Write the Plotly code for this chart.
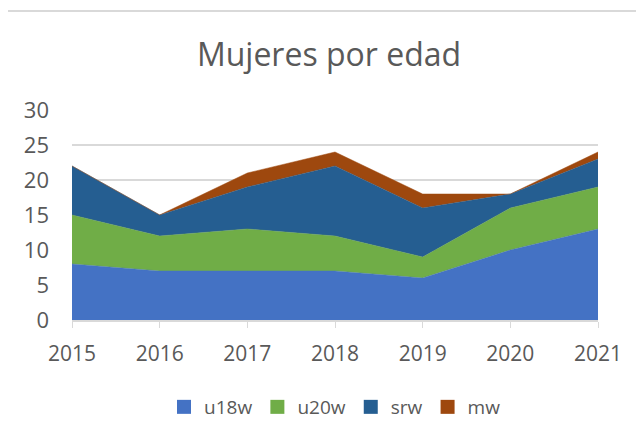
import plotly.graph_objects as go

years = [2015, 2016, 2017, 2018, 2019, 2020, 2021]
u18w = [8, 7, 7, 7, 6, 10, 13]
u20w = [7, 5, 6, 5, 3, 6, 6]
srw = [7, 3, 6, 10, 7, 2, 4]
mw = [0, 0, 2, 2, 2, 0, 1]

series = [("u18w", u18w, "#4472C4"), ("u20w", u20w, "#70AD47"),
          ("srw", srw, "#255E91"), ("mw", mw, "#9E480E")]

fig = go.Figure()
for name, vals, col in series:
    fig.add_trace(go.Scatter(x=years, y=vals, name=name, mode="lines",
                             stackgroup="one", fillcolor=col, showlegend=False,
                             line=dict(width=0.5, color=col)))
# square legend markers
for name, vals, col in series:
    fig.add_trace(go.Scatter(x=[None], y=[None], name=name, mode="markers",
                             marker=dict(symbol="square", size=14, color=col),
                             showlegend=True))

# page body has an 8px offset; compensate
OFF = 8
W, H = 644 - OFF, 437 - OFF
L, R, T, B = 72 - OFF, 598 - OFF, 110 - OFF, 321 - OFF
PW, PH = R - L, B - T

def px(x):
    return (x - OFF - L) / PW

def py(y):
    return (B - (y - OFF)) / PH

font = "Open Sans"
fig.update_layout(
    width=W, height=H,
    margin=dict(l=L, r=W - R, t=T, b=H - B),
    paper_bgcolor="white", plot_bgcolor="white",
    title=dict(text="Mujeres por edad", x=px(329), xref="paper", xanchor="center",
               y=1 - (55 - OFF) / H, yanchor="middle",
               font=dict(family=font, size=32, color="#595959")),
    font=dict(family=font, color="#595959"),
    xaxis=dict(range=[2015, 2021], tickvals=years, ticktext=[str(y) for y in years],
               showgrid=False, showline=True, linecolor="#d9d9d9", linewidth=2,
               ticks="outside", ticklen=6, tickcolor="#d9d9d9", tickwidth=1,
               tickfont=dict(size=21, color="#595959"), zeroline=False,
               ticklabelstandoff=8),
    yaxis=dict(range=[0, 30], tickvals=[0, 5, 10, 15, 20, 25, 30],
               showgrid=True, gridcolor="#d9d9d9", gridwidth=1.5,
               showline=False, zeroline=False, ticks="",
               tickfont=dict(size=22, color="#595959"), ticklabelstandoff=22),
    legend=dict(orientation="h", x=px(335), xanchor="center", y=py(407),
                yanchor="middle", font=dict(size=19, color="#595959"),
                itemwidth=30, traceorder="normal"),
    showlegend=True,
    shapes=[
        dict(type="line", xref="paper", yref="paper",
             x0=px(7), x1=px(660), y0=py(10.5), y1=py(10.5),
             line=dict(color="#d9d9d9", width=2)),
        dict(type="line", xref="paper", yref="paper",
             x0=px(7), x1=px(7), y0=py(10.5), y1=py(460),
             line=dict(color="#d9d9d9", width=2)),
    ],
)

fig.write_html("out.html")
